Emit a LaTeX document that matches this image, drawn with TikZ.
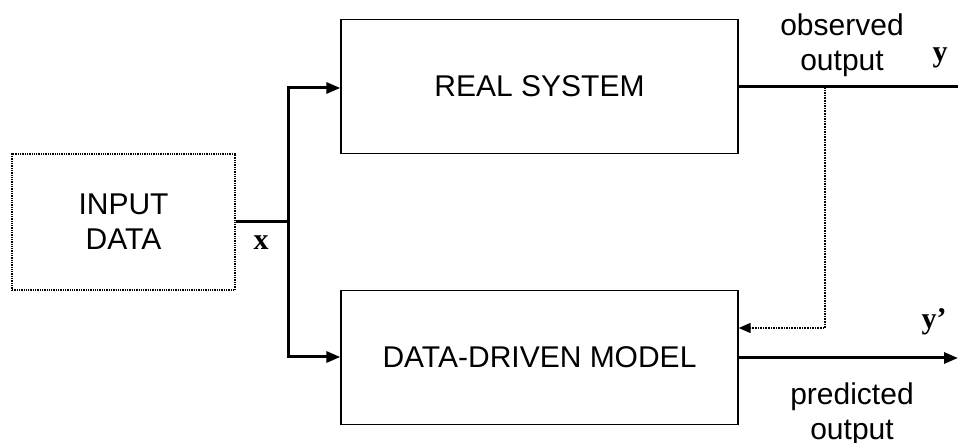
\documentclass[tikz,border=0pt]{standalone}
\usepackage{fontspec}
\setmainfont{Liberation Sans}
\newfontfamily\serifbold{Liberation Serif}
\usetikzlibrary{arrows.meta}
\begin{document}
\begin{tikzpicture}[x=1pt,y=-1pt,
  block/.style={draw,line width=1.3pt,minimum width=397pt,minimum height=134pt,
    font=\fontsize{30}{34}\selectfont,inner sep=0pt},
  label/.style={font=\fontsize{30}{35}\selectfont,align=center,inner sep=0pt},
  var/.style={font=\serifbold\bfseries\fontsize{30}{34}\selectfont,inner sep=0pt},
  flow/.style={line width=3pt},
  tip/.style={-{Triangle[length=14pt,width=11pt]}},
  feedback/.style={line width=1.6pt,densely dotted}]
\useasboundingbox (0,0) rectangle (958,443);

% blocks
\node[block,densely dotted,line width=1.6pt,minimum width=223pt,minimum height=136pt,align=center]
  (input) at (123.5,222) {INPUT\\[1pt]DATA};
\node[block] (real) at (539.5,86.5) {REAL SYSTEM};
\node[block] (model) at (539.5,357.5) {DATA-DRIVEN MODEL};

% input distribution
\coordinate (split) at (288,222);
\coordinate (out1) at (958,87);
\coordinate (out2) at (958,358);
\coordinate (tap) at (825,87);
\coordinate (back) at (825,328);

\draw[flow] (input.east |- split) -- (split);
\draw[flow,tip] (split) |- (real.west |- 0,88);
\draw[flow,tip] (split) |- (model.west |- 0,357);

% outputs
\draw[flow] (real.east |- out1) -- (out1);
\draw[flow,tip] (model.east |- out2) -- (out2);

% feedback of the observed output
\draw[feedback,-{Triangle[length=12pt,width=10pt]}] (tap) -- (back) -- (model.east |- back);

% labels
\node[var] (x) at (261,243) {x};
\node[var] (y) at (940,58) {y};
\node[var] (yp) at (934,322) {y’};
\node[label] (obs) at (842,45) {observed\\output};
\node[label] (pred) at (852,414) {predicted\\output};
\end{tikzpicture}
\end{document}
